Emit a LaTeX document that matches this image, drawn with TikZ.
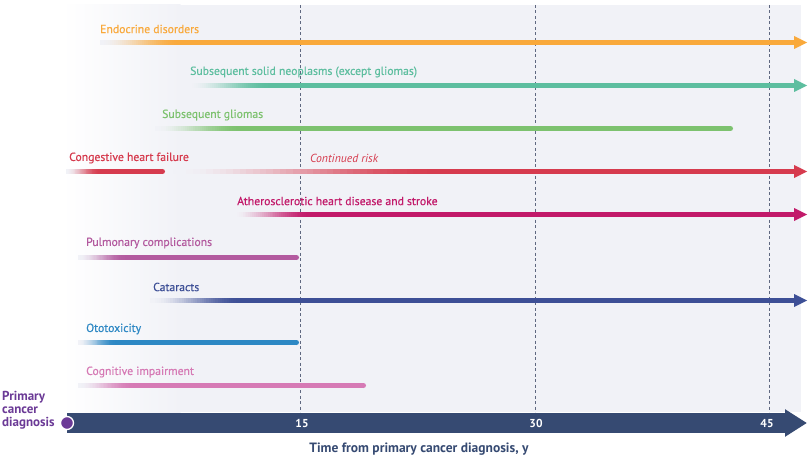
\documentclass[tikz,border=0pt]{standalone}
\usepackage{fontspec}
\setmainfont{PT Sans}
\newfontfamily\lblfont{PT Sans}[FakeBold=0.5]
\usetikzlibrary{arrows.meta,calc}
\definecolor{bgc}{HTML}{F1F2F7}
\definecolor{corange}{HTML}{F9A93B}
\definecolor{cteal}{HTML}{5DBE9F}
\definecolor{cgreen}{HTML}{7DC26F}
\definecolor{cred}{HTML}{D63B4E}
\definecolor{cmag}{HTML}{C21A6A}
\definecolor{cpulm}{HTML}{B35A9F}
\definecolor{ccat}{HTML}{3D4F96}
\definecolor{coto}{HTML}{2D88C4}
\definecolor{ccog}{HTML}{D67AB5}
\definecolor{caxis}{HTML}{364A72}
\definecolor{cpurple}{HTML}{6B3A96}
\definecolor{cdash}{HTML}{5F6880}
% fading start of a bar: colour, start coordinate, end coordinate
\newcommand\fadeseg[3]{%
  \foreach \i in {0,...,39}{%
    \pgfmathsetmacro\tt{(\i+0.5)/40}%
    \pgfmathtruncatemacro\pc{100*\tt*\tt*(3-2*\tt)}%
    \fill[color=#1!\pc!bgc] ($(#2)!\i/40!(#3)+(0,-2.5)$) rectangle ($(#2)!\i/40+0.035!(#3)+(0,2.5)$);
  }}
% solid bar ending in an arrowhead: colour, start, tip
\newcommand\arrowfill[3]{%
  \fill[#1] ($(#2)+(0,-2.5)$) rectangle ($(#3)+(-12,2.5)$);
  \fill[#1] ($(#3)+(-13,-6.5)$) -- (#3) -- ($(#3)+(-13,6.5)$) -- cycle;}
% solid bar ending round: colour, start, end
\newcommand\roundfill[3]{%
  \fill[#1] ($(#2)+(0,-2.5)$) rectangle ($(#3)+(-2.5,2.5)$);
  \fill[#1] ($(#3)+(-2.5,0)$) circle[radius=2.5];}
\begin{document}
\begin{tikzpicture}[x=1pt,y=-1pt,
  lbl/.style={anchor=west, inner sep=0pt, font=\lblfont\fontsize{11.7}{13}\selectfont},
  dashline/.style={cdash, line width=0.9pt, dash pattern=on 3pt off 2.5pt},
  ticklbl/.style={text=white, font=\bfseries\fontsize{11.5}{13}\selectfont, inner sep=0pt}]
\useasboundingbox (0,0) rectangle (810,457);
% background panel
\fill[bgc] (180,5) rectangle (801,412);
\shade[left color=white, right color=bgc] (62,5) rectangle (180.5,412);
% dashed lines
\foreach \xx/\nm in {300/d15,535/d30,769/d45}{
  \coordinate (\nm top) at (\xx,5);
  \coordinate (\nm bot) at (\xx,412);
  \draw[dashline] (\nm top) -- (\nm bot);
}
% 1 Endocrine
\node[lbl, text=corange] (l1) at (100,29) {Endocrine disorders};
\coordinate (b1a) at (100,42.5); \coordinate (b1b) at (180,42.5); \coordinate (b1c) at (807,42.5);
\fadeseg{corange}{b1a}{b1b}
\arrowfill{corange}{b1b}{b1c}
% 2 Solid neoplasms
\node[lbl, text=cteal] (l2) at (190,72) {Subsequent solid neoplasms (except gliomas)};
\coordinate (b2a) at (188,85.5); \coordinate (b2b) at (268,85.5); \coordinate (b2c) at (807,85.5);
\fadeseg{cteal}{b2a}{b2b}
\arrowfill{cteal}{b2b}{b2c}
% 3 Gliomas
\node[lbl, text=cgreen] (l3) at (162,115) {Subsequent gliomas};
\coordinate (b3a) at (155,128.5); \coordinate (b3b) at (240,128.5); \coordinate (b3c) at (733,128.5);
\fadeseg{cgreen}{b3a}{b3b}
\roundfill{cgreen}{b3b}{b3c}
% 4 CHF
\node[lbl, text=cred] (l4) at (69,158) {Congestive heart failure};
\coordinate (b4a) at (66,171.5); \coordinate (b4b) at (100,171.5); \coordinate (b4c) at (165,171.5);
\fadeseg{cred}{b4a}{b4b}
\roundfill{cred}{b4b}{b4c}
\node[lbl, text=cred, font=\itshape\fontsize{11.7}{13}\selectfont] (l4b) at (310,158) {Continued risk};
\coordinate (b4d) at (173,171.5); \coordinate (b4e) at (440,171.5); \coordinate (b4f) at (807,171.5);
\fadeseg{cred}{b4d}{b4e}
\arrowfill{cred}{b4e}{b4f}
% 5 Atherosclerotic
\node[lbl, text=cmag] (l5) at (237,201) {Atherosclerotic heart disease and stroke};
\coordinate (b5a) at (233,214.5); \coordinate (b5b) at (310,214.5); \coordinate (b5c) at (807,214.5);
\fadeseg{cmag}{b5a}{b5b}
\arrowfill{cmag}{b5b}{b5c}
% 6 Pulmonary
\node[lbl, text=cpulm] (l6) at (86,243) {Pulmonary complications};
\coordinate (b6a) at (78,257.5); \coordinate (b6b) at (125,257.5); \coordinate (b6c) at (299,257.5);
\fadeseg{cpulm}{b6a}{b6b}
\roundfill{cpulm}{b6b}{b6c}
% 7 Cataracts
\node[lbl, text=ccat] (l7) at (153,287) {Cataracts};
\coordinate (b7a) at (150,300.5); \coordinate (b7b) at (240,300.5); \coordinate (b7c) at (807,300.5);
\fadeseg{ccat}{b7a}{b7b}
\arrowfill{ccat}{b7b}{b7c}
% 8 Ototoxicity
\node[lbl, text=coto] (l8) at (86,329) {Ototoxicity};
\coordinate (b8a) at (78,342.5); \coordinate (b8b) at (115,342.5); \coordinate (b8c) at (299,342.5);
\fadeseg{coto}{b8a}{b8b}
\roundfill{coto}{b8b}{b8c}
% 9 Cognitive
\node[lbl, text=ccog] (l9) at (86,372) {Cognitive impairment};
\coordinate (b9a) at (78,385.5); \coordinate (b9b) at (133,385.5); \coordinate (b9c) at (366,385.5);
\fadeseg{ccog}{b9a}{b9b}
\roundfill{ccog}{b9b}{b9c}
% axis
\coordinate (ax0) at (67,423); \coordinate (ax1) at (807,423);
\draw[caxis, line width=19.5pt, -{Triangle[length=22pt,width=26pt]}] (ax0) -- (ax1);
\node[circle, fill=cpurple, draw=white, line width=1.3pt, minimum size=13pt, inner sep=0pt] (dx) at (ax0) {};
\node[ticklbl] (t15) at (302,423.5) {15};
\node[ticklbl] (t30) at (536,423.5) {30};
\node[ticklbl] (t45) at (767,423.5) {45};
\node[text=caxis, font=\bfseries\fontsize{13.5}{15}\selectfont, inner sep=0pt] (axt) at (419,449) {Time from primary cancer diagnosis, y};
\node[anchor=west, text=cpurple, align=left, inner sep=0pt, font=\bfseries\fontsize{13}{13}\selectfont] (pcd) at (2,410.5) {Primary\\cancer\\diagnosis};
\end{tikzpicture}
\end{document}
